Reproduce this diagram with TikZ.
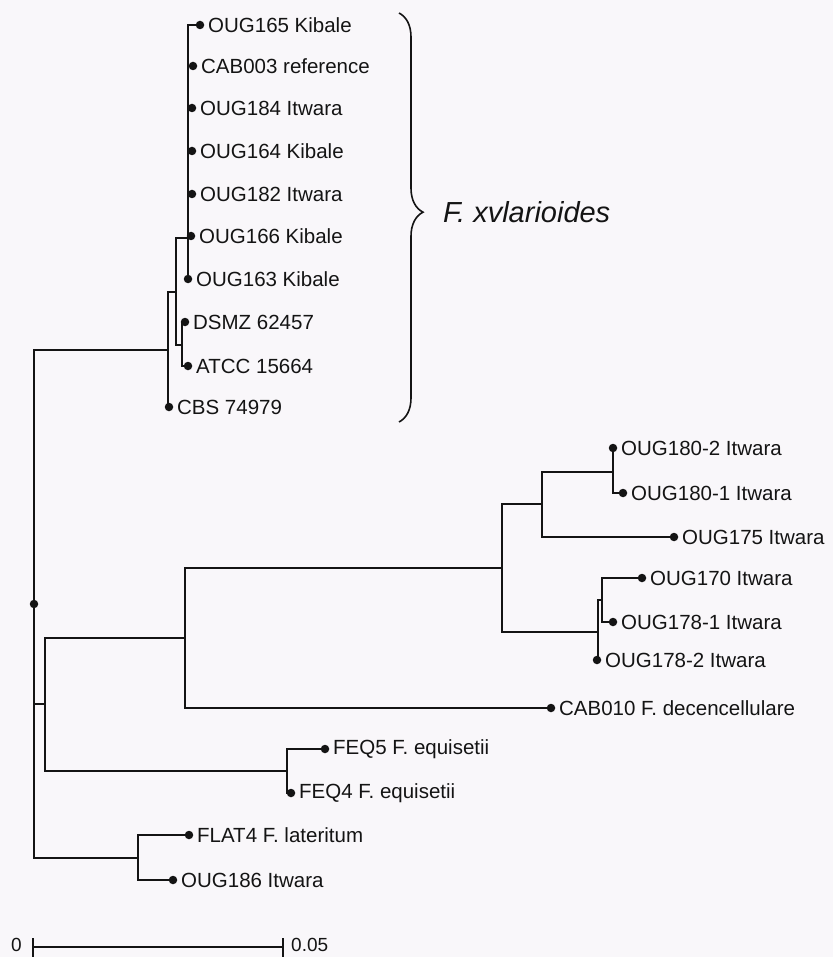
\documentclass[tikz,border=0pt]{standalone}
\usepackage{fontspec}
\setmainfont{Liberation Sans}
\usetikzlibrary{decorations.pathreplacing}
\definecolor{bg}{RGB}{249,247,250}
\definecolor{ink}{RGB}{20,20,20}
\begin{document}
\begin{tikzpicture}[x=1pt,y=-1pt,
  leaf/.style={circle,fill=ink,inner sep=0pt,minimum size=8.5pt},
  lab/.style={font=\fontsize{20.5}{24}\selectfont,text=ink,inner sep=0pt,label distance=3.5pt},
  br/.style={draw=ink,line width=1.8pt},
  every label/.style={lab}]
\fill[bg] (0,0) rectangle (833,957);
\useasboundingbox (0,0) rectangle (833,957);
% leaves
\node[leaf,label={right:OUG165 Kibale}] (L1) at (200,25) {};
\node[leaf,label={right:CAB003 reference}] (L2) at (193,66) {};
\node[leaf,label={right:OUG184 Itwara}] (L3) at (192,108) {};
\node[leaf,label={right:OUG164 Kibale}] (L4) at (192,151) {};
\node[leaf,label={right:OUG182 Itwara}] (L5) at (192,194) {};
\node[leaf,label={right:OUG166 Kibale}] (L6) at (191,236) {};
\node[leaf,label={right:OUG163 Kibale}] (L7) at (188,279) {};
\node[leaf,label={right:DSMZ 62457}] (L8) at (185,322) {};
\node[leaf,label={right:ATCC 15664}] (L9) at (188,366) {};
\node[leaf,label={right:CBS 74979}] (L10) at (169,407) {};
\node[leaf,label={right:OUG180-2 Itwara}] (L11) at (613,448) {};
\node[leaf,label={right:OUG180-1 Itwara}] (L12) at (623,493) {};
\node[leaf,label={right:OUG175 Itwara}] (L13) at (674,537) {};
\node[leaf,label={right:OUG170 Itwara}] (L14) at (642,578) {};
\node[leaf,label={right:OUG178-1 Itwara}] (L15) at (613,622) {};
\node[leaf,label={right:OUG178-2 Itwara}] (L16) at (597,660) {};
\node[leaf,label={right:CAB010 F. decencellulare}] (L17) at (551,708) {};
\node[leaf,label={right:FEQ5 F. equisetii}] (L18) at (325,749) {};
\node[leaf,label={right:FEQ4 F. equisetii}] (L19) at (291,793) {};
\node[leaf,label={right:FLAT4 F. lateritum}] (L20) at (189,835) {};
\node[leaf,label={right:OUG186 Itwara}] (L21) at (173,880) {};
% internal nodes
\node[leaf] (R) at (34,604) {};
\coordinate (D) at (168,350);
\coordinate (B) at (176,292);
\coordinate (A) at (188,238);
\coordinate (C) at (182,345);
\coordinate (K) at (45,704);
\coordinate (E) at (185,638);
\coordinate (F) at (502,568);
\coordinate (G) at (542,504);
\coordinate (H) at (613,472);
\coordinate (I) at (598,632);
\coordinate (J) at (602,600);
\coordinate (Lq) at (287,771);
\coordinate (M) at (138,858);
% branches
\draw[br] (R.center) |- (D) (R.center) |- (K) (R.center) |- (M);
\draw[br] (D) |- (B) (D) |- (L10.center);
\draw[br] (B) |- (A) (B) |- (C);
\foreach \l in {L1,L2,L3,L4,L5,L6,L7} \draw[br] (A) |- (\l.center);
\draw[br] (C) |- (L8.center) (C) |- (L9.center);
\draw[br] (K) |- (E) (K) |- (Lq);
\draw[br] (E) |- (F) (E) |- (L17.center);
\draw[br] (F) |- (G) (F) |- (I);
\draw[br] (G) |- (H) (G) |- (L13.center);
\draw[br] (H) |- (L11.center) (H) |- (L12.center);
\draw[br] (I) |- (J) (I) |- (L16.center);
\draw[br] (J) |- (L14.center) (J) |- (L15.center);
\draw[br] (Lq) |- (L18.center) (Lq) |- (L19.center);
\draw[br] (M) |- (L20.center) (M) |- (L21.center);
% brace and clade label
\draw[draw=ink,line width=1.6pt,decorate,decoration={brace,amplitude=24pt,aspect=0.487}] (399,13) -- (399,422);
\node[font=\fontsize{29}{34}\selectfont\itshape,text=ink,anchor=west,inner sep=0pt] (clade) at (443,212) {F. xvlarioides};
% scale bar
\coordinate (S0) at (33,947);
\coordinate (S1) at (283,947);
\draw[br,line width=1.3pt] (S0) -- (S1);
\draw[br,line width=1.3pt] ([yshift=-10]S0) -- ([yshift=9]S0);
\draw[br,line width=1.3pt] ([yshift=-10]S1) -- ([yshift=9]S1);
\node[lab,anchor=east,font=\fontsize{19}{22}\selectfont] (s0lab) at (22,945) {0};
\node[lab,anchor=west,font=\fontsize{19}{22}\selectfont] (s1lab) at (291,945) {0.05};
\end{tikzpicture}
\end{document}
